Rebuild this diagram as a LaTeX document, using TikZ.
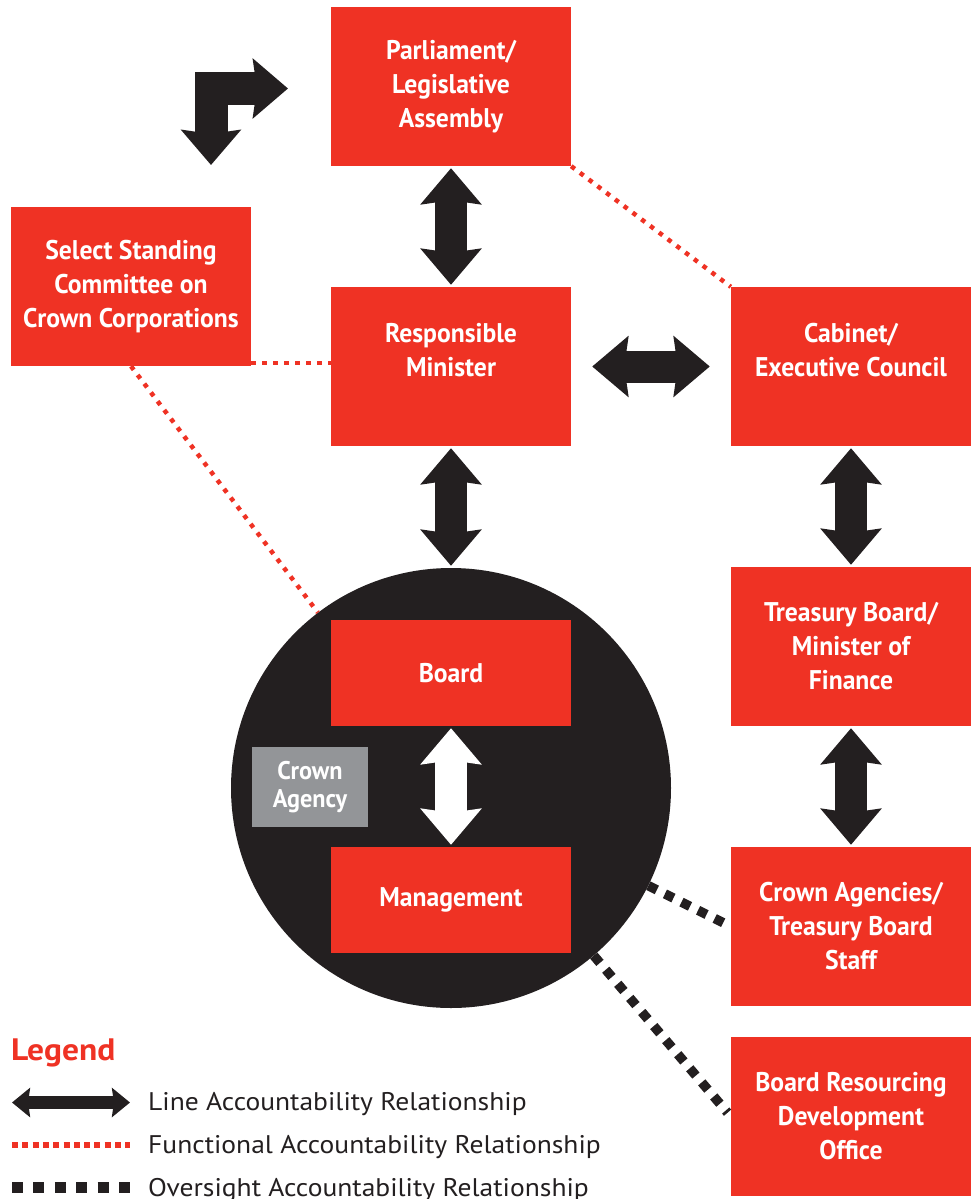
\documentclass[tikz,border=0pt]{standalone}
\usepackage{fontspec}
\usetikzlibrary{arrows.meta}
\newfontfamily\boxfont{PT Sans}[FakeStretch=0.95]
\newfontfamily\legfont{PT Sans}[FakeStretch=1.08]
\definecolor{orgred}{HTML}{EF3224}
\definecolor{orgdark}{HTML}{231F20}
\definecolor{orggray}{HTML}{939598}
\tikzset{
  orgbox/.style={fill=orgred, minimum width=240pt, minimum height=159pt, inner sep=0pt,
    text=white, align=center, font=\boxfont\bfseries\fontsize{27}{34}\selectfont},
  smallbox/.style={orgbox, minimum height=106pt},
  graybox/.style={fill=orggray, minimum width=116pt, minimum height=80pt, inner sep=0pt,
    text=white, align=center, font=\boxfont\bfseries\fontsize{25.5}{28}\selectfont},
  bigtip/.tip={Stealth[length=36pt 0, width=60pt 0, inset=4pt 0]},
  benttip/.tip={Stealth[length=35pt 0, width=59pt 0, inset=4pt 0]},
  legtip/.tip={Stealth[length=18pt 0, width=29pt 0, inset=2pt 0]},
  lineacc/.style={draw=orgdark, line width=32pt, bigtip-bigtip, shorten <=2pt, shorten >=2pt},
  functional/.style={draw=orgred, line width=4.5pt, dash pattern=on 4.5pt off 6.5pt},
  oversight/.style={draw=orgdark, line width=9.5pt, dash pattern=on 9.5pt off 9pt},
  legtext/.style={anchor=base west, inner sep=0pt, text=orgdark, font=\legfont\fontsize{25.5}{30}\selectfont}
}
\begin{document}
\begin{tikzpicture}[x=1pt, y=-1pt]
\useasboundingbox (0,0) rectangle (973,1199);

% crown agency circle
\node[circle, fill=orgdark, minimum size=440pt, inner sep=0pt] (circ) at (451,788) {};

% boxes
\node[orgbox] (par) at (451,86.5) {Parliament/\\Legislative\\Assembly};
\node[orgbox] (sel) at (131,286.5) {Select Standing\\Committee on\\Crown Corporations};
\node[orgbox] (min) at (451,366.5) {Responsible\\Minister\\\mbox{}};
\node[orgbox] (cab) at (851,366.5) {Cabinet/\\Executive Council\\\mbox{}};
\node[orgbox] (tre) at (851,646.5) {Treasury Board/\\Minister of\\Finance};
\node[orgbox] (cas) at (851,926.5) {Crown Agencies/\\Treasury Board\\Staff};
\node[orgbox] (bro) at (851,1116.5) {Board Resourcing\\Development\\Office};
\node[smallbox] (brd) at (451,673) {Board};
\node[smallbox] (mgt) at (451,900) {Management};
\node[graybox] (cag) at (310,787) {Crown\\Agency};

% line accountability arrows
\draw[lineacc] (par.south) -- (min.north);
\draw[lineacc] (min.south) -- (circ.north);
\draw[lineacc, shorten <=21pt, shorten >=21pt] (min.east) -- (cab.west);
\draw[lineacc] (cab.south) -- (tre.north);
\draw[lineacc] (tre.south) -- (cas.north);
\draw[lineacc, draw=white] (brd.south) -- (mgt.north);

% bent arrow top-left
\coordinate (bentA) at (211,165);
\coordinate (bentC) at (211,88.5);
\coordinate (bentB) at (288,88.5);
\draw[draw=orgdark, line width=33pt, line join=miter, benttip-benttip] (bentA) -- (bentC) -- (bentB);

% functional relationships
\draw[functional] (par.south east) -- (cab.north west);
\draw[functional] ([yshift=3pt]sel.south east) -- ([yshift=3pt]sel.south east -| min.west);
\draw[functional] (sel.south) -- (circ);

% oversight relationships
\draw[oversight, shorten >=2pt] (circ) -- (cas.west);
\draw[oversight, shorten >=5pt] (circ) -- (bro.west);

% legend
\node[anchor=base west, inner sep=0pt, text=orgred, font=\legfont\bfseries\fontsize{31}{34}\selectfont] (leg) at (11,1060) {Legend};
\coordinate (legA1) at (12,1102.5);
\coordinate (legA2) at (130,1102.5);
\draw[draw=orgdark, line width=13pt, legtip-legtip] (legA1) -- (legA2);
\node[legtext] (legT1) at (148,1110) {Line Accountability Relationship};
\coordinate (legB1) at (12,1145);
\coordinate (legB2) at (130,1145);
\draw[draw=orgred, line width=6pt, dash pattern=on 6pt off 4.3pt] (legB1) -- (legB2);
\node[legtext] (legT2) at (148,1153) {Functional Accountability Relationship};
\coordinate (legC1) at (12,1187.5);
\coordinate (legC2) at (130,1187.5);
\draw[draw=orgdark, line width=11pt, dash pattern=on 11pt off 10.4pt] (legC1) -- (legC2);
\node[legtext] (legT3) at (148,1196) {Oversight Accountability Relationship};
\end{tikzpicture}
\end{document}
